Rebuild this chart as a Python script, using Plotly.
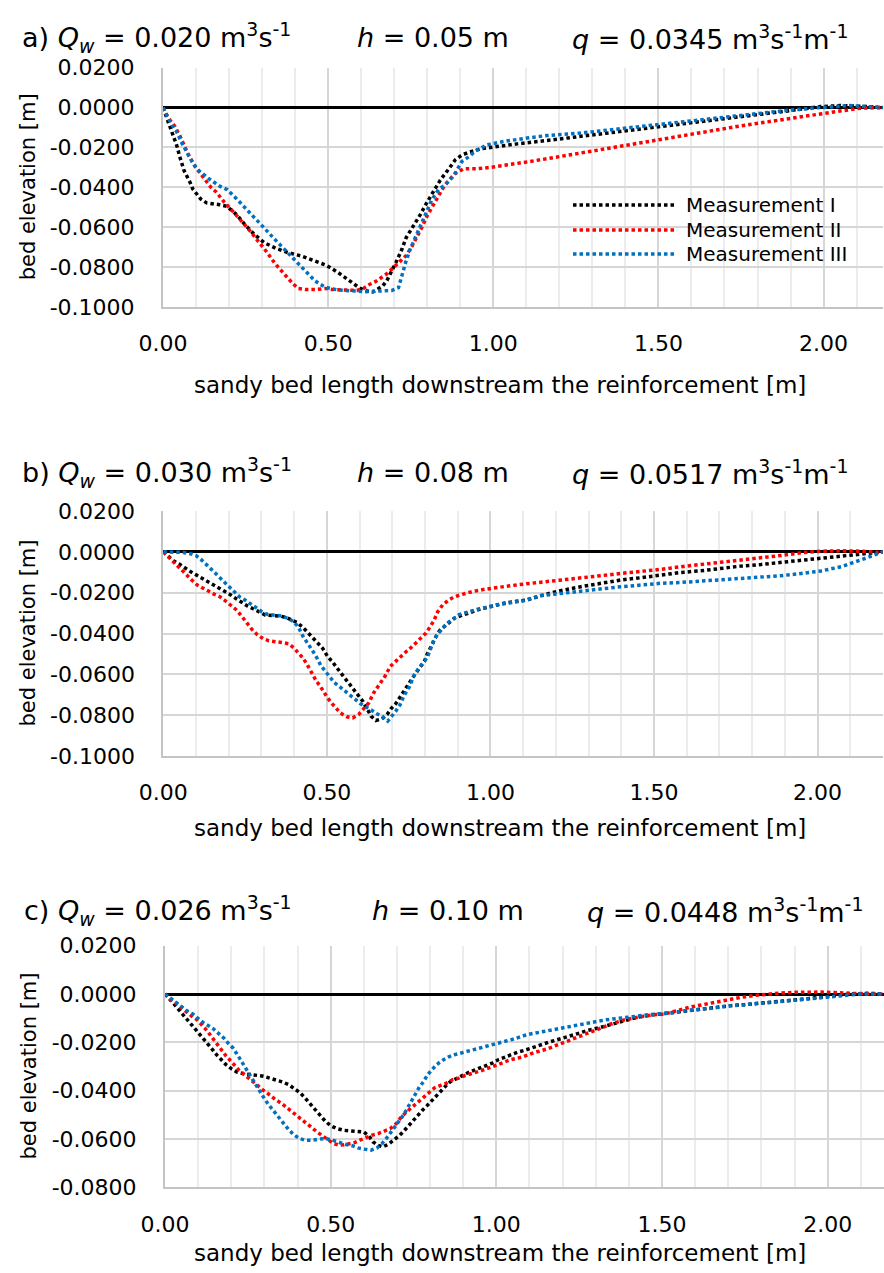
import plotly.graph_objects as go

# ---------------- data: bed profiles downstream the reinforcement ----------------
# panel a) Qw = 0.020 m3/s, h = 0.05 m
a_x1 = [0, 0.006, 0.021, 0.033, 0.041, 0.052, 0.064, 0.082, 0.09, 0.114, 0.132, 0.171, 0.193, 0.223, 0.248,
        0.277, 0.307, 0.345, 0.38, 0.42, 0.459, 0.496, 0.531, 0.564, 0.597, 0.617, 0.635, 0.665, 0.678, 0.705,
        0.723, 0.736, 0.759, 0.779, 0.797, 0.819, 0.839, 0.865, 0.885, 0.905, 0.925, 0.961, 1.021, 1.072, 1.163,
        1.264, 1.506, 1.748, 1.9, 1.99, 2.05, 2.13, 2.18]
a_y1 = [0, -0.0028, -0.0095, -0.0158, -0.0187, -0.0253, -0.0317, -0.0375, -0.0408, -0.0458, -0.0478, -0.0487,
        -0.0495, -0.0537, -0.0587, -0.0637, -0.0678, -0.0708, -0.0728, -0.0745, -0.077, -0.0792, -0.0828, -0.0867,
        -0.0907, -0.092, -0.0925, -0.0895, -0.0867, -0.0778, -0.0712, -0.0653, -0.0595, -0.0537, -0.0482, -0.042,
        -0.0365, -0.0308, -0.0262, -0.0238, -0.0225, -0.0207, -0.0192, -0.0182, -0.0165, -0.0145, -0.0095,
        -0.0045, -0.0015, 0.0005, 0.001, 0.0005, 0]
a_x2 = [0, 0.009, 0.021, 0.036, 0.052, 0.077, 0.097, 0.12, 0.132, 0.145, 0.161, 0.173, 0.185, 0.213, 0.238,
        0.254, 0.264, 0.292, 0.316, 0.339, 0.365, 0.393, 0.41, 0.43, 0.466, 0.491, 0.511, 0.552, 0.587, 0.607,
        0.625, 0.643, 0.661, 0.678, 0.693, 0.705, 0.72, 0.736, 0.754, 0.769, 0.784, 0.799, 0.817, 0.831, 0.849,
        0.865, 0.885, 0.91, 0.95, 0.991, 1.052, 1.112, 1.168, 1.264, 1.506, 1.748, 1.99, 2.11, 2.18]
a_y2 = [0, -0.0032, -0.0062, -0.0095, -0.0145, -0.0237, -0.0295, -0.0348, -0.0375, -0.04, -0.0423, -0.0448,
        -0.0473, -0.0523, -0.0567, -0.06, -0.062, -0.0675, -0.0728, -0.0782, -0.0833, -0.0883, -0.0907, -0.0912,
        -0.0912, -0.0907, -0.0912, -0.0917, -0.0917, -0.0907, -0.0887, -0.0873, -0.0853, -0.0833, -0.081, -0.079,
        -0.0765, -0.0742, -0.0695, -0.065, -0.06, -0.0545, -0.049, -0.0448, -0.04, -0.0365, -0.033, -0.0307,
        -0.0307, -0.03, -0.0287, -0.027, -0.0255, -0.0228, -0.0158, -0.0092, -0.0032, -0.0003, 0]
a_x3 = [0, 0.009, 0.019, 0.029, 0.041, 0.057, 0.077, 0.092, 0.109, 0.14, 0.173, 0.195, 0.223, 0.252, 0.277,
        0.306, 0.334, 0.363, 0.387, 0.405, 0.43, 0.459, 0.476, 0.496, 0.531, 0.572, 0.615, 0.655, 0.693, 0.713,
        0.728, 0.735, 0.748, 0.764, 0.779, 0.799, 0.814, 0.834, 0.855, 0.88, 0.905, 0.93, 0.945, 0.981, 1.031,
        1.102, 1.163, 1.264, 1.506, 1.748, 1.9, 1.99, 2.08, 2.18]
a_y3 = [0, -0.0032, -0.0062, -0.0092, -0.012, -0.0178, -0.0237, -0.0282, -0.0317, -0.0358, -0.0395, -0.0412,
        -0.0458, -0.0507, -0.0553, -0.0603, -0.0653, -0.0703, -0.0742, -0.0775, -0.082, -0.0867, -0.0887, -0.0903,
        -0.0915, -0.092, -0.0923, -0.092, -0.0917, -0.0903, -0.0812, -0.0775, -0.0712, -0.0653, -0.0595, -0.0528,
        -0.0462, -0.0412, -0.0387, -0.0342, -0.027, -0.0242, -0.0218, -0.0187, -0.017, -0.0153, -0.014, -0.0128,
        -0.0083, -0.0037, -0.0012, 0, 0.001, 0]

# panel b) Qw = 0.030 m3/s, h = 0.08 m
b_x1 = [0, 0.015, 0.031, 0.049, 0.066, 0.084, 0.102, 0.119, 0.135, 0.153, 0.17, 0.189, 0.206, 0.224, 0.24, 0.257,
        0.276, 0.294, 0.311, 0.332, 0.355, 0.376, 0.393, 0.408, 0.426, 0.439, 0.454, 0.469, 0.487, 0.502, 0.518,
        0.541, 0.554, 0.568, 0.582, 0.592, 0.61, 0.624, 0.635, 0.65, 0.668, 0.684, 0.697, 0.711, 0.722, 0.733,
        0.743, 0.753, 0.765, 0.781, 0.791, 0.798, 0.806, 0.816, 0.827, 0.839, 0.847, 0.859, 0.876, 0.89, 0.908,
        0.929, 0.947, 0.969, 0.99, 1.015, 1.041, 1.071, 1.112, 1.153, 1.214, 1.276, 1.337, 1.398, 1.459, 1.52,
        1.582, 1.643, 1.704, 1.765, 1.827, 1.888, 1.949, 2.01, 2.072, 2.133, 2.2]
b_y1 = [0, -0.0021, -0.0044, -0.006, -0.0081, -0.0098, -0.0114, -0.013, -0.0146, -0.0159, -0.0179, -0.0195,
        -0.0211, -0.0231, -0.0249, -0.0265, -0.028, -0.0293, -0.0309, -0.0312, -0.0314, -0.0322, -0.0333, -0.0346,
        -0.0369, -0.039, -0.0415, -0.0444, -0.0472, -0.0512, -0.0541, -0.059, -0.0618, -0.0642, -0.0672, -0.0696,
        -0.0732, -0.0772, -0.0805, -0.0826, -0.0818, -0.0797, -0.0767, -0.0743, -0.0715, -0.0691, -0.0659,
        -0.0639, -0.061, -0.0574, -0.0553, -0.0537, -0.0504, -0.0472, -0.0434, -0.0398, -0.0382, -0.0366, -0.0345,
        -0.0325, -0.0314, -0.0301, -0.0293, -0.028, -0.0272, -0.026, -0.0252, -0.0244, -0.0236, -0.0215, -0.019,
        -0.0171, -0.0154, -0.0138, -0.0127, -0.0114, -0.0101, -0.0093, -0.0081, -0.007, -0.0062, -0.0052, -0.0041,
        -0.0029, -0.002, -0.0008, 0]
b_x2 = [0, 0.015, 0.029, 0.043, 0.058, 0.073, 0.087, 0.104, 0.12, 0.138, 0.155, 0.173, 0.189, 0.206, 0.221,
        0.235, 0.248, 0.26, 0.272, 0.288, 0.306, 0.323, 0.342, 0.362, 0.383, 0.4, 0.413, 0.427, 0.439, 0.446,
        0.457, 0.467, 0.48, 0.49, 0.502, 0.516, 0.528, 0.541, 0.561, 0.579, 0.597, 0.612, 0.628, 0.643, 0.656,
        0.666, 0.679, 0.694, 0.712, 0.727, 0.743, 0.758, 0.772, 0.788, 0.803, 0.816, 0.827, 0.839, 0.854, 0.87,
        0.886, 0.908, 0.944, 0.98, 1.02, 1.061, 1.102, 1.153, 1.214, 1.276, 1.337, 1.398, 1.459, 1.52, 1.582,
        1.643, 1.704, 1.765, 1.827, 1.888, 1.949, 2.01, 2.072, 2.133, 2.184, 2.2]
b_y2 = [0, -0.0021, -0.0046, -0.0068, -0.0093, -0.0114, -0.0138, -0.0163, -0.0179, -0.0192, -0.0207, -0.022,
        -0.0239, -0.026, -0.0281, -0.0306, -0.0333, -0.0358, -0.0382, -0.0407, -0.0426, -0.0436, -0.0442, -0.0444,
        -0.045, -0.0472, -0.0496, -0.052, -0.055, -0.0569, -0.0605, -0.0631, -0.0659, -0.0688, -0.0715, -0.0743,
        -0.0764, -0.0789, -0.0808, -0.0813, -0.0797, -0.0772, -0.074, -0.0691, -0.0662, -0.0634, -0.0606, -0.0561,
        -0.0533, -0.0512, -0.0488, -0.0468, -0.0447, -0.0423, -0.0398, -0.0366, -0.0338, -0.0293, -0.026, -0.0239,
        -0.0223, -0.0211, -0.0195, -0.0184, -0.0174, -0.0166, -0.0158, -0.015, -0.0138, -0.0127, -0.0117, -0.0106,
        -0.0098, -0.0086, -0.0073, -0.0062, -0.0054, -0.0041, -0.0029, -0.0018, -0.0005, 0.0003, 0.0005, 0.0003,
        -0.0003, 0]
b_x3 = [0, 0.02, 0.041, 0.061, 0.08, 0.1, 0.115, 0.131, 0.146, 0.16, 0.173, 0.189, 0.202, 0.217, 0.233, 0.25,
        0.267, 0.284, 0.301, 0.318, 0.342, 0.362, 0.38, 0.398, 0.413, 0.429, 0.441, 0.454, 0.466, 0.482, 0.495,
        0.507, 0.522, 0.538, 0.554, 0.569, 0.584, 0.602, 0.617, 0.633, 0.653, 0.67, 0.686, 0.699, 0.711, 0.724,
        0.735, 0.753, 0.765, 0.781, 0.794, 0.806, 0.816, 0.827, 0.837, 0.852, 0.867, 0.885, 0.903, 0.924, 0.944,
        0.964, 0.99, 1.02, 1.061, 1.102, 1.153, 1.214, 1.276, 1.337, 1.398, 1.459, 1.52, 1.582, 1.643, 1.704,
        1.765, 1.827, 1.888, 1.949, 2.01, 2.072, 2.113, 2.153, 2.194, 2.2]
b_y3 = [0, 0, 0, -0.0003, -0.0008, -0.0018, -0.0037, -0.006, -0.0081, -0.0106, -0.0127, -0.0151, -0.0176,
        -0.0198, -0.022, -0.0236, -0.0255, -0.0273, -0.0293, -0.0306, -0.0312, -0.0314, -0.0325, -0.0341, -0.0369,
        -0.042, -0.0447, -0.0476, -0.0509, -0.0558, -0.0585, -0.061, -0.0639, -0.0659, -0.0678, -0.0699, -0.0719,
        -0.0743, -0.0756, -0.0772, -0.0793, -0.0808, -0.0829, -0.0805, -0.078, -0.0748, -0.0707, -0.0659, -0.061,
        -0.0569, -0.0545, -0.052, -0.048, -0.0431, -0.0407, -0.0377, -0.035, -0.033, -0.0309, -0.0298, -0.0288,
        -0.028, -0.0272, -0.026, -0.0249, -0.0239, -0.0215, -0.0203, -0.0192, -0.0182, -0.0171, -0.0163, -0.0154,
        -0.015, -0.0143, -0.0138, -0.0133, -0.0125, -0.0117, -0.0106, -0.0094, -0.0073, -0.0052, -0.0028, -0.0003, 0]

# panel c) Qw = 0.026 m3/s, h = 0.10 m
c_x1 = [0, 0.015, 0.027, 0.04, 0.053, 0.066, 0.08, 0.093, 0.106, 0.119, 0.132, 0.144, 0.156, 0.169, 0.184, 0.2,
        0.217, 0.237, 0.257, 0.277, 0.297, 0.316, 0.336, 0.355, 0.373, 0.388, 0.405, 0.42, 0.433, 0.446, 0.459,
        0.471, 0.484, 0.501, 0.519, 0.539, 0.559, 0.58, 0.6, 0.615, 0.628, 0.642, 0.658, 0.677, 0.693, 0.709,
        0.723, 0.736, 0.749, 0.763, 0.777, 0.791, 0.804, 0.818, 0.832, 0.847, 0.86, 0.877, 0.895, 0.914, 0.932,
        0.953, 0.971, 0.988, 1.006, 1.025, 1.045, 1.064, 1.083, 1.119, 1.159, 1.2, 1.235, 1.275, 1.315, 1.354,
        1.391, 1.426, 1.467, 1.507, 1.547, 1.588, 1.628, 1.668, 1.708, 1.749, 1.789, 1.829, 1.869, 1.91, 1.95,
        1.99, 2.03, 2.071, 2.121, 2.171]
c_y1 = [0, -0.0021, -0.0041, -0.0062, -0.0083, -0.0103, -0.0124, -0.0144, -0.0165, -0.0188, -0.0209, -0.0231,
        -0.0252, -0.0272, -0.0292, -0.0309, -0.0323, -0.033, -0.0333, -0.0334, -0.034, -0.0348, -0.0355, -0.0364,
        -0.0375, -0.0389, -0.0406, -0.0426, -0.0447, -0.0468, -0.0492, -0.0509, -0.0527, -0.0546, -0.0557,
        -0.0564, -0.0567, -0.0567, -0.0571, -0.0587, -0.0612, -0.0626, -0.0633, -0.0619, -0.0602, -0.0584,
        -0.0564, -0.0543, -0.0523, -0.0502, -0.0481, -0.0462, -0.0443, -0.0419, -0.0402, -0.0381, -0.0364,
        -0.0351, -0.0337, -0.0326, -0.0316, -0.0305, -0.0296, -0.0286, -0.0272, -0.0261, -0.025, -0.0241,
        -0.0234, -0.0217, -0.0199, -0.0183, -0.0168, -0.0151, -0.0138, -0.0124, -0.011, -0.0096, -0.0087, -0.008,
        -0.0076, -0.0069, -0.0062, -0.0055, -0.0048, -0.0044, -0.0039, -0.0034, -0.003, -0.0025, -0.0018, -0.001,
        -0.0004, 0, 0.0003, 0]
c_x2 = [0, 0.015, 0.033, 0.05, 0.068, 0.081, 0.096, 0.109, 0.122, 0.134, 0.146, 0.159, 0.171, 0.183, 0.197,
        0.21, 0.224, 0.239, 0.255, 0.27, 0.285, 0.301, 0.318, 0.333, 0.35, 0.366, 0.381, 0.398, 0.414, 0.428,
        0.444, 0.459, 0.474, 0.491, 0.509, 0.527, 0.544, 0.57, 0.588, 0.605, 0.625, 0.643, 0.663, 0.68, 0.698,
        0.713, 0.729, 0.746, 0.761, 0.779, 0.796, 0.813, 0.832, 0.85, 0.867, 0.887, 0.907, 0.927, 0.948, 0.966,
        0.985, 1.003, 1.023, 1.043, 1.078, 1.113, 1.154, 1.194, 1.23, 1.27, 1.31, 1.346, 1.386, 1.426, 1.467,
        1.507, 1.542, 1.582, 1.623, 1.658, 1.698, 1.738, 1.779, 1.819, 1.859, 1.899, 1.94, 1.98, 2.02, 2.06,
        2.121, 2.171]
c_y2 = [0, -0.0021, -0.0039, -0.0059, -0.0077, -0.0092, -0.0106, -0.0124, -0.0144, -0.0165, -0.0188, -0.021,
        -0.0231, -0.0254, -0.0275, -0.0296, -0.0316, -0.0333, -0.0351, -0.0369, -0.0388, -0.0403, -0.0419,
        -0.0437, -0.0451, -0.0468, -0.0485, -0.0502, -0.0518, -0.0536, -0.0554, -0.0571, -0.0587, -0.0602,
        -0.0619, -0.0626, -0.0623, -0.0616, -0.0605, -0.0595, -0.0584, -0.0578, -0.0568, -0.0557, -0.0536,
        -0.0509, -0.0488, -0.0468, -0.0447, -0.0426, -0.0406, -0.0389, -0.0378, -0.0369, -0.0355, -0.0348,
        -0.0337, -0.033, -0.032, -0.0312, -0.0302, -0.0293, -0.0282, -0.0272, -0.0261, -0.0243, -0.0227, -0.0206,
        -0.0186, -0.0168, -0.0144, -0.0124, -0.0107, -0.0096, -0.0087, -0.0083, -0.0069, -0.0055, -0.0044,
        -0.0034, -0.0023, -0.0014, -0.0006, 0, 0.0004, 0.0007, 0.0008, 0.0008, 0.0006, 0.0003, 0, 0]
c_x3 = [0, 0.017, 0.033, 0.05, 0.066, 0.084, 0.098, 0.114, 0.131, 0.146, 0.163, 0.178, 0.191, 0.205, 0.217,
        0.227, 0.237, 0.247, 0.257, 0.269, 0.279, 0.289, 0.3, 0.312, 0.325, 0.336, 0.348, 0.361, 0.373, 0.388,
        0.406, 0.423, 0.444, 0.464, 0.484, 0.506, 0.526, 0.544, 0.565, 0.582, 0.602, 0.622, 0.64, 0.655, 0.668,
        0.68, 0.696, 0.709, 0.719, 0.729, 0.739, 0.749, 0.759, 0.769, 0.781, 0.791, 0.804, 0.819, 0.837, 0.855,
        0.872, 0.892, 0.912, 0.932, 0.953, 0.973, 0.993, 1.013, 1.053, 1.093, 1.134, 1.174, 1.214, 1.254, 1.29,
        1.33, 1.37, 1.411, 1.451, 1.491, 1.532, 1.572, 1.612, 1.653, 1.693, 1.733, 1.774, 1.814, 1.854, 1.894,
        1.935, 1.975, 2.015, 2.056, 2.096, 2.171]
c_y3 = [0, -0.0018, -0.0034, -0.0051, -0.0069, -0.0083, -0.0099, -0.0117, -0.0131, -0.0144, -0.0165, -0.0183,
        -0.0204, -0.0223, -0.0248, -0.0271, -0.0292, -0.0316, -0.0341, -0.0364, -0.0389, -0.0413, -0.0433,
        -0.0457, -0.0479, -0.0502, -0.0523, -0.0543, -0.0561, -0.0582, -0.0598, -0.0605, -0.0605, -0.0601,
        -0.0598, -0.0605, -0.0615, -0.0622, -0.0628, -0.0637, -0.0642, -0.0646, -0.0637, -0.0619, -0.0598,
        -0.0575, -0.055, -0.0523, -0.0502, -0.0479, -0.0454, -0.0433, -0.0406, -0.0382, -0.0362, -0.0337,
        -0.0316, -0.0293, -0.0275, -0.0261, -0.0252, -0.0245, -0.0237, -0.023, -0.0223, -0.0216, -0.0209,
        -0.0199, -0.0186, -0.0168, -0.0158, -0.0149, -0.0138, -0.0128, -0.0117, -0.0107, -0.0099, -0.0094,
        -0.0087, -0.0083, -0.0078, -0.0069, -0.0065, -0.0058, -0.0051, -0.0045, -0.0041, -0.0037, -0.0032,
        -0.0025, -0.0021, -0.0017, -0.0011, -0.0004, 0, 0]

series_names = ["Measurement I", "Measurement II", "Measurement III"]
series_colors = ["#000000", "#ff0000", "#0070c0"]

x_tickvals = [0, 0.5, 1.0, 1.5, 2.0]
x_ticktext = ["0.00", "0.50", "1.00", "1.50", "2.00"]
y_tickvals_ab = [0.02, 0, -0.02, -0.04, -0.06, -0.08, -0.10]
y_ticktext_ab = ["0.0200", "0.0000", "-0.0200", "-0.0400", "-0.0600", "-0.0800", "-0.1000"]
y_tickvals_c = [0.02, 0, -0.02, -0.04, -0.06, -0.08]
y_ticktext_c = ["0.0200", "0.0000", "-0.0200", "-0.0400", "-0.0600", "-0.0800"]

panel_titles = [
    ("a) <i>Q</i><sub><i>w</i></sub> = 0.020 m<sup>3</sup>s<sup>-1</sup>", "<i>h</i> = 0.05 m",
     "<i>q</i> = 0.0345 m<sup>3</sup>s<sup>-1</sup>m<sup>-1</sup>"),
    ("b) <i>Q</i><sub><i>w</i></sub> = 0.030 m<sup>3</sup>s<sup>-1</sup>", "<i>h</i> = 0.08 m",
     "<i>q</i> = 0.0517 m<sup>3</sup>s<sup>-1</sup>m<sup>-1</sup>"),
    ("c) <i>Q</i><sub><i>w</i></sub> = 0.026 m<sup>3</sup>s<sup>-1</sup>", "<i>h</i> = 0.10 m",
     "<i>q</i> = 0.0448 m<sup>3</sup>s<sup>-1</sup>m<sup>-1</sup>"),
]
x_title = "sandy bed length downstream the reinforcement [m]"
y_title = "bed elevation [m]"

# ---------------- layout geometry (page pixels) ----------------
W, H = 884, 1273
FONT = "DejaVu Sans"


def fx(px):
    return px / W


def fy(py):
    return 1 - py / H


panels = [
    dict(xs=[a_x1, a_x2, a_x3], ys=[a_y1, a_y2, a_y3], left=163, right=883, top=67.7, bottom=307,
         xmax=2.18, yr=[-0.1, 0.02], yt=(y_tickvals_ab, y_ticktext_ab),
         title_y=38, title_x=(20, 355, 570), xtitle_y=385),
    dict(xs=[b_x1, b_x2, b_x3], ys=[b_y1, b_y2, b_y3], left=163.3, right=883, top=511, bottom=756,
         xmax=2.2, yr=[-0.1, 0.02], yt=(y_tickvals_ab, y_ticktext_ab),
         title_y=472, title_x=(20, 355, 570), xtitle_y=828),
    dict(xs=[c_x1, c_x2, c_x3], ys=[c_y1, c_y2, c_y3], left=165, right=884, top=945.7, bottom=1187.3,
         xmax=2.17, yr=[-0.08, 0.02], yt=(y_tickvals_c, y_ticktext_c),
         title_y=910, title_x=(22, 370, 585), xtitle_y=1253),
]

fig = go.Figure()
annotations = []
layout_axes = {}

for i, p in enumerate(panels):
    n = "" if i == 0 else str(i + 1)
    xa, ya = "x" + n, "y" + n
    for k in range(3):
        assert len(p["xs"][k]) == len(p["ys"][k]), (i, k)
        fig.add_trace(go.Scatter(
            x=p["xs"][k], y=p["ys"][k], mode="lines", name=series_names[k],
            line=dict(color=series_colors[k], width=3.5, dash="3.5px,3px"),
            xaxis=xa, yaxis=ya, showlegend=False, hoverinfo="skip"))

    layout_axes["xaxis" + n] = dict(
        domain=[fx(p["left"]), fx(p["right"])], anchor=ya, range=[0, p["xmax"]], automargin=False,
        tickmode="array", tickvals=x_tickvals, ticktext=x_ticktext,
        tickfont=dict(family=FONT, size=22, color="#000"), ticks="", ticklabelstandoff=16,
        showgrid=True, gridcolor="#d6d6d6", gridwidth=1.5,
        minor=dict(tickmode="linear", tick0=0, dtick=0.1, showgrid=True, gridcolor="#ececec", gridwidth=1.5),
        showline=True, linecolor="#c4c4c4", linewidth=2, zeroline=False, fixedrange=True)
    layout_axes["yaxis" + n] = dict(
        domain=[fy(p["bottom"]), fy(p["top"])], anchor=xa, range=p["yr"], automargin=False,
        tickmode="array", tickvals=p["yt"][0], ticktext=p["yt"][1],
        tickfont=dict(family=FONT, size=22, color="#000"), ticks="", ticklabelstandoff=22,
        showgrid=True, gridcolor="#d6d6d6", gridwidth=1.5,
        zeroline=True, zerolinecolor="#000000", zerolinewidth=2.5,
        showline=True, linecolor="#c4c4c4", linewidth=2, fixedrange=True)

    # panel heading in three parts
    for txt, tx in zip(panel_titles[i], p["title_x"]):
        annotations.append(dict(text=txt, x=fx(tx), y=fy(p["title_y"]), xref="paper", yref="paper",
                                xanchor="left", yanchor="middle", showarrow=False,
                                font=dict(family=FONT, size=27, color="#000")))
    # axis titles
    annotations.append(dict(text=x_title, x=fx(500), y=fy(p["xtitle_y"]), xref="paper", yref="paper",
                            xanchor="center", yanchor="middle", showarrow=False,
                            font=dict(family=FONT, size=23, color="#000")))
    annotations.append(dict(text=y_title, x=fx(28), y=fy((p["top"] + p["bottom"]) / 2), xref="paper",
                            yref="paper", xanchor="center", yanchor="middle", textangle=-90, showarrow=False,
                            font=dict(family=FONT, size=21, color="#000")))

# legend box inside panel a
shapes = []
legend_rows = [205, 230, 254]
for k in range(3):
    shapes.append(dict(type="line", xref="paper", yref="paper", x0=fx(573), x1=fx(675),
                       y0=fy(legend_rows[k]), y1=fy(legend_rows[k]),
                       line=dict(color=series_colors[k], width=3.5, dash="3.5px,3px")))
    annotations.append(dict(text=series_names[k], x=fx(684), y=fy(legend_rows[k]), xref="paper", yref="paper",
                            xanchor="left", yanchor="middle", showarrow=False,
                            font=dict(family=FONT, size=20, color="#000")))

fig.update_layout(
    width=W, height=H, margin=dict(l=0, r=0, t=0, b=0),
    paper_bgcolor="white", plot_bgcolor="white",
    showlegend=False, annotations=annotations, shapes=shapes,
    **layout_axes)

fig.write_html("out.html")
